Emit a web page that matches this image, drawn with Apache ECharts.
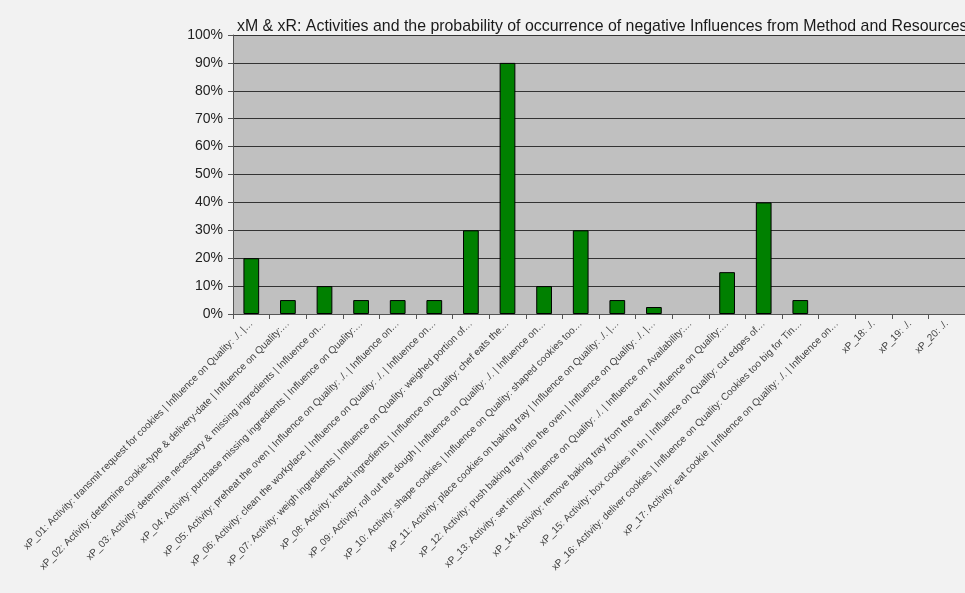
<!DOCTYPE html>
<html>
<head>
<meta charset="utf-8">
<script src="https://cdn.jsdelivr.net/npm/echarts@6/dist/echarts.min.js"></script>
<style>
html,body{margin:0;padding:0;background:#f2f2f2;}
#chart{width:965px;height:593px;}
</style>
</head>
<body>
<div id="chart"></div>
<script>
const titleText = "xM & xR: Activities and the probability of occurrence of negative Influences from Method and Resources";
const categories = [
  "xP_01: Activity: transmit request for cookies | Influence on Quality: ./. |…",
  "xP_02: Activity: determine cookie-type & delivery-date | Influence on Quality:…",
  "xP_03: Activity: determine necessary & missing ingredients | Influence on…",
  "xP_04: Activity: purchase missing ingredients | Influence on Quality:…",
  "xP_05: Activity: preheat the oven | Influence on Quality: ./. | Influence on…",
  "xP_06: Activity: clean the workplace | Influence on Quality: ./. | Influence on…",
  "xP_07: Activity: weigh ingredients | Influence on Quality: weighed portion of…",
  "xP_08: Activity: knead ingredients | Influence on Quality: chef eats the…",
  "xP_09: Activity: roll out the dough | Influence on Quality: ./. | Influence on…",
  "xP_10: Activity: shape cookies | Influence on Quality: shaped cookies too…",
  "xP_11: Activity: place cookies on baking tray | Influence on Quality: ./. |…",
  "xP_12: Activity: push baking tray into the oven | Influence on Quality: ./. |…",
  "xP_13: Activity: set timer | Influence on Quality: ./. | Influence on Availability:…",
  "xP_14: Activity: remove baking tray from the oven | Influence on Quality:…",
  "xP_15: Activity: box cookies in tin | Influence on Quality: cut edges of…",
  "xP_16: Activity: deliver cookies | Influence on Quality: Cookies too big for Tin…",
  "xP_17: Activity: eat cookie | Influence on Quality: ./. | Influence on…",
  "xP_18: ./.",
  "xP_19: ./.",
  "xP_20: ./."
];
const values = [20, 5, 10, 5, 5, 5, 30, 90, 10, 30, 5, 2.5, 0, 15, 40, 5, 0, 0, 0, 0];
const yTicks = [0, 10, 20, 30, 40, 50, 60, 70, 80, 90, 100];

const chart = echarts.init(document.getElementById('chart'));
chart.setOption({
  backgroundColor: '#f2f2f2',
  animation: false,
  title: {
    text: titleText,
    left: 232, top: 14,
    textStyle: {fontFamily: 'Liberation Sans, Arial', fontSize: 15.9, fontWeight: 'normal', color: '#1a1a1a'}
  },
  grid: {
    left: 233, right: -4, top: 35, bottom: 279,
    show: true, backgroundColor: '#c0c0c0', borderWidth: 0
  },
  xAxis: {
    type: 'category',
    data: categories,
    axisLine: {lineStyle: {color: '#555', width: 1}},
    axisTick: {show: true, length: 5, lineStyle: {color: '#555'}},
    axisLabel: {
      interval: 0, rotate: 45, fontSize: 10, color: '#404040',
      fontFamily: 'Liberation Sans, Arial', margin: 8
    }
  },
  yAxis: {
    type: 'value',
    min: yTicks[0], max: yTicks[yTicks.length - 1], interval: 10,
    axisLine: {show: true, lineStyle: {color: '#555'}},
    axisTick: {show: true, length: 5, lineStyle: {color: '#555'}},
    axisLabel: {formatter: '{value}%', fontSize: 14, color: '#222', fontFamily: 'Liberation Sans, Arial', margin: 10},
    splitLine: {lineStyle: {color: '#333', width: 1}}
  },
  series: [{
    type: 'bar',
    data: values.map(v => v === 0 ? {value: v, itemStyle: {borderWidth: 0}} : v),
    barWidth: '43%',
    itemStyle: {color: '#008000', borderColor: '#000', borderWidth: 1}
  }]
});
</script>
</body>
</html>
